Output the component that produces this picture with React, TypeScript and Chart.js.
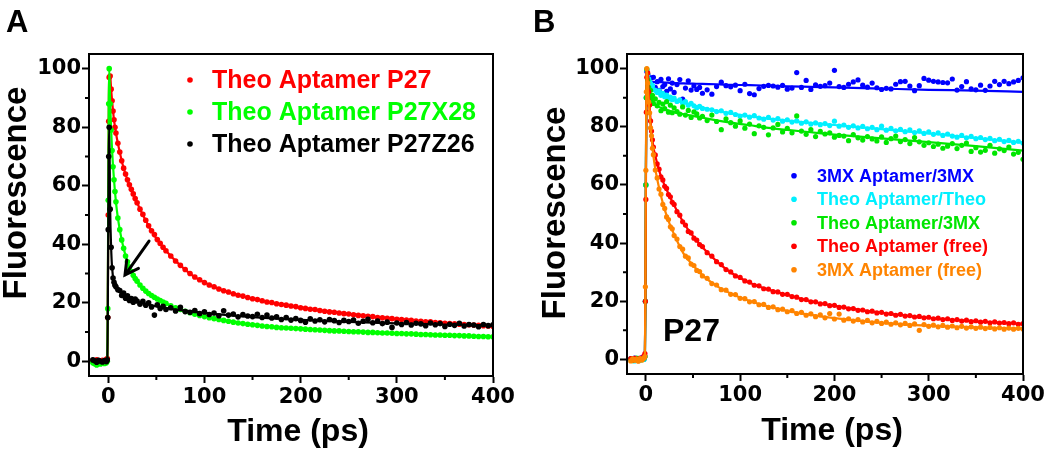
import { useEffect, useRef } from 'react';
import { Chart, registerables } from 'chart.js';

Chart.register(...registerables);

// ---------- shared time axis (ps) ----------
const TIME = [
  -16, -14, -12, -10, -8, -6, -4, -2,
  -1, -0.5, 0, 0.5, 1,
  2, 3, 4, 5, 6, 7, 8,
  10, 12, 14, 16, 18, 20, 22, 24, 26, 28, 30,
  33, 36, 39, 42, 45, 48, 51, 54, 57,
  60, 65, 70, 75, 80, 85, 90, 95, 100, 105,
  110, 115, 120, 125, 130, 135, 140, 145, 150, 155,
  160, 165, 170, 175, 180, 185, 190, 195, 200, 205,
  210, 215, 220, 225, 230, 235, 240, 245, 250, 255,
  260, 265, 270, 275, 280, 285, 290, 295, 300, 305,
  310, 315, 320, 325, 330, 335, 340, 345, 350, 355,
  360, 365, 370, 375, 380, 385, 390, 395, 400,
];

const TIME_FIT = [-16, -2, -1, -0.5, 0, 0.5, 1, 2, 3, 4, 6, 8, 10, 13, 16, 20, 25, 30, 40, 50, 60, 75, 90, 110, 130, 150, 175, 200, 250, 300, 350, 400];

// ---------- Panel A data ----------
const A_P27 = [
  0.3, -0.2, 0.5, 0.1, -0.3, 0.4, 0.2, 0.6,
  1, 15, 50, 82, 97,
  97.5, 93, 89, 85.5, 82.5, 80, 78,
  74.5, 71.5, 68.5, 66, 64, 62, 60.3, 58.8, 57.2, 55.6, 54.2,
  52, 50.2, 48.2, 46.3, 44.6, 43.3, 41.6, 40.3, 39,
  37.8, 36.0, 34.3, 32.8, 31.4, 30.0, 28.8, 27.9, 26.9, 26.1,
  25.5, 24.7, 24.1, 23.7, 23.1, 22.6, 22.3, 21.8, 21.4, 21.1,
  20.7, 20.3, 20.1, 19.7, 19.4, 19.2, 18.9, 18.7, 18.3, 18.1,
  17.8, 17.7, 17.4, 17.1, 16.9, 16.8, 16.5, 16.3, 16.2, 15.9,
  15.7, 15.6, 15.4, 15.3, 15.0, 14.9, 14.7, 14.6, 14.4, 14.3,
  14.1, 14.0, 13.8, 13.7, 13.5, 13.5, 13.3, 13.2, 13.0, 12.9,
  12.8, 12.7, 12.6, 12.5, 12.4, 12.3, 12.2, 12.1, 12.0,
];
const A_P27X28 = [
  -0.5, -0.8, -1.2, -0.6, -0.9, -0.4, -0.7, -0.5,
  0, 18, 55, 88, 100,
  88, 79, 72, 66.5, 62, 58, 54.5,
  49, 45, 41.5, 38.6, 36, 34, 32.2, 30.7, 29.4, 28.3, 27.4,
  26.1, 25, 24, 23.2, 22.5, 21.9, 21.3, 20.8, 20.3,
  19.8, 19.0, 18.3, 17.7, 17.1, 16.6, 16.1, 15.7, 15.3, 14.9,
  14.6, 14.3, 14.0, 13.7, 13.4, 13.1, 12.9, 12.7, 12.5, 12.3,
  12.1, 11.9, 11.8, 11.6, 11.5, 11.4, 11.3, 11.2, 11.1, 11.0,
  10.9, 10.8, 10.7, 10.6, 10.5, 10.4, 10.4, 10.3, 10.2, 10.1,
  10.1, 10.0, 9.9, 9.9, 9.8, 9.7, 9.7, 9.6, 9.5, 9.5,
  9.4, 9.4, 9.3, 9.2, 9.2, 9.1, 9.0, 9.0, 8.9, 8.9,
  8.8, 8.8, 8.7, 8.7, 8.6, 8.5, 8.5, 8.4, 8.4,
];
const A_P27Z26 = [
  0.5, 0.2, -0.3, 0.4, 0, -0.2, 0.3, -0.1,
  0.5, 15, 45, 70, 80,
  52, 39, 32, 28.5, 27, 26, 25.5,
  24.5, 24.2, 22.5, 23.3, 21.6, 22.4, 20.8, 21.5, 20.2, 21.3, 20.6,
  19.5, 20.5, 19.2, 20.0, 18.6, 15.8, 19.3, 18.1, 18.8,
  17.7, 18.3, 17.2, 18.5, 17.0, 16.8, 17.4, 16.3, 16.9, 16.0,
  16.5, 15.6, 17.3, 15.8, 16.2, 15.2, 16.0, 15.5, 15.3, 16.1,
  15.0, 15.8, 14.8, 15.2, 14.3, 15.0, 14.1, 14.6, 14.0, 13.4,
  14.5, 13.8, 14.2, 13.5, 14.3, 13.9, 13.3, 14.0, 13.6, 14.1,
  13.0, 13.7, 14.4, 13.2, 13.8, 12.9, 13.4, 11.6, 13.1, 12.6,
  13.3, 12.4, 13.0, 12.8, 12.2, 13.1, 12.5, 12.9, 11.9, 12.7,
  12.3, 13.0, 12.1, 12.6, 12.4, 11.8, 12.6, 12.2, 12.5,
];
const A_P27_FIT = [0, 0, 1, 15, 50, 82, 97, 97.5, 93, 89, 82.5, 78, 74.5, 70, 66, 62, 58, 54.2, 47.5, 42, 37.8, 32.8, 28.8, 25.5, 23.1, 21.4, 19.7, 18.3, 16.2, 14.4, 13.0, 12.0];
const A_P27X28_FIT = [-0.7, -0.6, 0, 18, 55, 88, 100, 88, 79, 72, 62, 54.5, 49, 43.2, 38.6, 34, 30, 27.4, 23.6, 21.5, 19.8, 17.7, 16.1, 14.6, 13.4, 12.5, 11.6, 11.1, 10.2, 9.5, 8.9, 8.4];
const A_P27Z26_FIT = [0, 0, 0.5, 15, 45, 70, 80, 52, 39, 32, 27, 25.3, 24.2, 23.3, 22.6, 21.8, 21, 20.4, 19.5, 18.8, 18.2, 17.5, 16.9, 16.2, 15.6, 15.1, 14.6, 14.2, 13.5, 13.0, 12.6, 12.3];
const LEGEND_A = ['Theo Aptamer P27', 'Theo Aptamer P27X28', 'Theo Aptamer P27Z26'];

// ---------- Panel B data ----------
const B_3MX_3MX = [
  0.3, -0.2, 0.5, 0, -0.4, 0.2, 0.6, 0.1,
  1, 20, 60, 90, 99,
  98, 97, 96.5, 95, 96.8, 94, 97,
  93.5, 95.5, 92.5, 96.3, 93.8, 94.5, 92.2, 96.5, 93, 95, 91.8,
  94.5, 96.2, 89.5, 93.3, 95.8, 92.6, 94, 92.8, 93.5,
  91.5, 92.7, 91.2, 93.8, 95.3, 94.1, 93.7, 94.3, 92.4, 94.6,
  91.4, 91.0, 93.1, 93.9, 94.2, 94.0, 93.6, 94.2, 92.9, 93.3,
  98.6, 93.5, 95.9, 92.8, 94.4, 93.9, 94.1, 95.0, 99.4, 93.8,
  93.5, 94.6, 95.4, 96.1, 94.3, 93.6, 95.0, 93.4, 92.8, 93.2,
  93.0, 94.6, 95.5, 95.6, 94.0, 92.4, 94.1, 96.6, 96.0, 95.6,
  95.4, 95.2, 95.1, 96.4, 92.6, 93.8, 95.5, 93.0, 92.7, 94.3,
  92.5, 94.0, 95.6, 94.5, 95.6, 94.8, 95.4, 95.9, 96.8,
];
const B_THEO_THEO = [
  -0.2, 0.3, -0.5, 0.1, 0.4, -0.3, 0.2, 0,
  1, 20, 60, 90, 99.5,
  98, 96.5, 95.5, 94.8, 93.5, 94.2, 92.8,
  92.5, 91.8, 92.3, 90.8, 91.5, 90.3, 90.9, 89.6, 90.2, 89.3, 89.8,
  88.7, 89.2, 88.1, 88.6, 87.4, 88.0, 87.2, 86.5, 87.0,
  86.3, 86.0, 85.8, 85.2, 85.5, 84.6, 84.9, 84.2, 83.6, 84.0,
  83.3, 83.8, 83.0, 82.6, 83.2, 82.3, 82.8, 81.9, 82.4, 81.6,
  82.0, 81.2, 81.7, 80.9, 81.3, 80.7, 81.1, 80.4, 81.9, 80.2,
  80.6, 79.8, 80.3, 79.6, 80.1, 79.3, 79.8, 79.0, 80.2, 78.8,
  79.4, 78.6, 79.1, 78.3, 78.9, 78.0, 78.6, 77.7, 78.2, 77.4,
  77.9, 77.0, 77.5, 76.8, 76.4, 77.0, 76.2, 76.7, 75.9, 76.3,
  75.6, 76.0, 75.2, 75.7, 74.9, 75.3, 74.6, 75.0, 74.4,
];
const B_THEO_3MX = [
  0.2, -0.4, 0.1, 0.5, -0.2, 0.3, -0.1, 0.4,
  1, 20, 60, 90, 99.8,
  96, 93.5, 91, 92.5, 89.5, 90.8, 88,
  89.6, 87.2, 88.4, 85.5, 87.8, 86.2, 88.6, 85.0, 87.4, 84.8, 86.5,
  85.2, 84.3, 86.8, 84.0, 85.6, 83.2, 85.1, 84.4, 83.0,
  83.6, 82.1, 84.0, 81.8, 79.0, 82.7, 81.4, 80.2, 82.0, 79.5,
  80.9, 77.6, 80.3, 79.8, 77.2, 79.6, 80.8, 78.2, 79.4, 77.9,
  83.7, 78.5, 77.4, 79.0, 76.6, 78.4, 77.5, 77.9, 76.4, 77.0,
  76.8, 75.2, 77.3, 76.2, 75.4, 76.6, 75.8, 75.1, 76.5, 74.6,
  75.9, 76.8, 74.9, 75.6, 74.2, 76.3, 74.8, 73.6, 74.5, 73.2,
  74.0, 72.6, 73.3, 74.2, 72.5, 73.6, 74.4, 71.5, 72.8, 71.3,
  71.9, 73.6, 70.9, 72.4, 71.8, 73.0, 70.6, 71.2, 68.8,
];
const B_THEO_FREE = [
  0.3, -0.2, 0.4, 0.1, -0.3, 0.5, 0.2, 1.2,
  2, 20, 55, 85, 97,
  98.5, 92, 87.5, 82, 78.5, 75.5, 73,
  70.3, 67.2, 65.4, 62.8, 61.7, 59.5, 58.8, 56.7, 55.9, 54.0, 53.3,
  50.8, 49.6, 47.3, 46.2, 44.0, 43.5, 41.7, 41.0, 39.5,
  38.8, 36.7, 35.5, 33.6, 32.6, 30.9, 30.1, 28.7, 28.2, 27.0,
  26.6, 25.5, 25.3, 24.3, 24.2, 23.3, 23.2, 22.4, 22.4, 21.6,
  21.4, 20.6, 20.6, 19.8, 19.8, 19.1, 19.2, 18.5, 18.6, 17.9,
  18.0, 17.4, 17.5, 16.9, 17.0, 16.4, 16.6, 16.0, 16.2, 15.6,
  15.8, 15.2, 15.5, 14.9, 15.1, 14.6, 14.8, 14.3, 14.5, 14.0,
  14.2, 13.7, 14.0, 13.4, 13.7, 13.2, 13.5, 13.0, 13.3, 12.8,
  13.1, 12.6, 12.9, 12.5, 12.7, 12.3, 12.6, 12.1, 12.3,
];
const B_3MX_FREE = [
  -0.5, 0.2, -0.3, 0.1, -0.6, 0.3, -0.2, 0.5,
  1, 25, 65, 92, 100,
  95, 88.5, 84.8, 79.6, 76.9, 72.6, 70.4,
  65.1, 62.4, 58.6, 56.8, 53.3, 51.9, 49.0, 48.1, 45.6, 44.9, 42.6,
  41.4, 38.8, 37.9, 35.5, 34.9, 32.8, 32.3, 30.6, 30.2,
  28.7, 27.9, 26.1, 25.6, 24.0, 23.8, 22.4, 22.3, 21.0, 20.9,
  19.8, 19.9, 18.8, 18.9, 17.9, 18.1, 17.1, 17.3, 16.4, 16.8,
  15.8, 16.2, 15.2, 15.7, 14.7, 15.3, 14.3, 15.8, 13.9, 15.6,
  13.5, 14.0, 13.2, 13.7, 12.9, 13.4, 12.6, 13.1, 12.4, 12.8,
  12.1, 12.6, 11.9, 12.4, 11.7, 12.2, 10.0, 12.0, 11.4, 11.8,
  11.2, 11.7, 11.1, 11.5, 10.9, 11.4, 10.8, 11.2, 10.7, 11.1,
  10.6, 11.0, 10.5, 10.9, 10.4, 10.8, 10.4, 10.7, 10.5,
];
const B_3MX_3MX_FIT = [0, 0, 1, 20, 60, 90, 99, 97.5, 96.5, 96, 95.5, 95.4, 95.3, 95.3, 95.3, 95.2, 95.1, 95.0, 94.9, 94.8, 94.7, 94.6, 94.4, 94.3, 94.1, 93.9, 93.7, 93.5, 93.1, 92.7, 92.4, 92.0];
const B_THEO_THEO_FIT = [0, 0, 1, 20, 60, 90, 99.5, 97.8, 96.5, 95.4, 94, 93, 92.3, 91.6, 91, 90.4, 89.7, 89.2, 88.2, 87.4, 86.6, 85.5, 84.6, 83.6, 82.8, 82.1, 81.3, 80.6, 79.2, 77.7, 76.1, 74.5];
const B_THEO_3MX_FIT = [0, 0, 1, 20, 60, 90, 99.8, 96, 93, 91, 89.3, 88.3, 87.7, 87, 86.5, 86, 85.5, 85, 84.3, 83.7, 83.1, 82.2, 81.4, 80.5, 79.6, 78.9, 78.1, 77.3, 76.0, 74.7, 73.3, 71.8];
const B_THEO_FREE_FIT = [0, 0, 2, 20, 55, 85, 97, 98.5, 92, 87, 78, 73, 70, 66.2, 63, 59.8, 56.3, 53, 47.0, 42.4, 38.6, 33.8, 29.9, 26.4, 24.0, 22.2, 20.0, 18.4, 16.0, 14.3, 13.1, 12.2];
const B_3MX_FREE_FIT = [0, 0, 1, 25, 65, 92, 100, 95, 89, 84.5, 76.5, 70, 65.5, 60.5, 56.3, 51.5, 46.8, 43, 36.4, 32.4, 29.0, 25.3, 22.7, 20.1, 18.2, 16.7, 15.3, 14.2, 12.6, 11.6, 11.0, 10.6];
const LEGEND_B = ['3MX Aptamer/3MX', 'Theo Aptamer/Theo', 'Theo Aptamer/3MX', 'Theo Aptamer (free)', '3MX Aptamer (free)'];

// ---------- axes ----------
const X_TICKS = [0, 100, 200, 300, 400];
const X_MINOR = [50, 150, 250, 350];
const Y_TICKS = [0, 20, 40, 60, 80, 100];
const Y_MINOR = [10, 30, 50, 70, 90];
const X_TITLE = 'Time (ps)';
const Y_TITLE = 'Fluorescence';

const SANS = '"Liberation Sans", Arial, Helvetica, sans-serif';
const TICK_FONT = '"DejaVu Sans", "Liberation Sans", Arial, sans-serif';

type Series = { pts: number[]; fit: number[]; color: string; order: number };
type Panel = {
  yAxisWidth: number; xAxisHeight: number; padTop: number; padRight: number;
  series: Series[]; pointRadius: number;
  letter: string; letterX: number; letterY: number;
  yTitleX: number; yTitleY: number; xTitleX: number; xTitleY: number;
  legend: string[]; legendDotX: number; legendTextX: number; legendBase0: number; legendStep: number;
  legendSize: number; legendDotDy: number;
  arrow?: { from: [number, number]; to: [number, number] };
  tag?: { text: string; x: number; y: number };
};

const RED = '#ff0000';
const GREEN = '#00ff00';
const BLACK = '#000000';
const BLUE = '#0000ff';
const CYAN = '#00f0ff';
const GREEN_B = '#00e600';
const ORANGE = '#ff8400';

const PANEL_A: Panel = {
  yAxisWidth: 89, xAxisHeight: 86, padTop: 54, padRight: 32,
  series: [
    { pts: A_P27, fit: A_P27_FIT, color: RED, order: 5 },
    { pts: A_P27X28, fit: A_P27X28_FIT, color: GREEN, order: 3 },
    { pts: A_P27Z26, fit: A_P27Z26_FIT, color: BLACK, order: 1 },
  ],
  pointRadius: 2.8,
  letter: 'A', letterX: 6, letterY: 32,
  yTitleX: 17, yTitleY: 193, xTitleX: 298, xTitleY: 441,
  legend: LEGEND_A, legendDotX: 190, legendTextX: 212, legendBase0: 87.5, legendStep: 32,
  legendSize: 25, legendDotDy: 7.5,
  arrow: { from: [42.4, 41.1], to: [17.4, 29.5] },
};

const PANEL_B: Panel = {
  yAxisWidth: 102, xAxisHeight: 88, padTop: 54, padRight: 27,
  series: [
    { pts: B_3MX_3MX, fit: B_3MX_3MX_FIT, color: BLUE, order: 9 },
    { pts: B_THEO_THEO, fit: B_THEO_THEO_FIT, color: CYAN, order: 7 },
    { pts: B_THEO_3MX, fit: B_THEO_3MX_FIT, color: GREEN_B, order: 5 },
    { pts: B_THEO_FREE, fit: B_THEO_FREE_FIT, color: RED, order: 3 },
    { pts: B_3MX_FREE, fit: B_3MX_FREE_FIT, color: ORANGE, order: 1 },
  ],
  pointRadius: 2.6,
  letter: 'B', letterX: 8, letterY: 32,
  yTitleX: 31, yTitleY: 213, xTitleX: 307, xTitleY: 440,
  legend: LEGEND_B, legendDotX: 269, legendTextX: 292, legendBase0: 181.7, legendStep: 23.5,
  legendSize: 18, legendDotDy: 6,
  tag: { text: 'P27', x: 138, y: 341 },
};

function toPoints(xs: number[], ys: number[]) {
  const out: { x: number; y: number }[] = [];
  for (let i = 0; i < Math.min(xs.length, ys.length); i++) out.push({ x: xs[i], y: ys[i] });
  return out;
}

function decorPlugin(p: Panel) {
  return {
    id: 'decor' + p.letter,
    afterDraw(chart: any) {
      const { ctx, chartArea: a, scales } = chart;
      const xs = scales.x, ys = scales.y;
      ctx.save();
      // frame
      ctx.strokeStyle = '#000';
      ctx.lineWidth = 2;
      ctx.strokeRect(a.left, a.top, a.right - a.left, a.bottom - a.top);
      // minor ticks
      ctx.beginPath();
      X_MINOR.forEach((v) => {
        const px = xs.getPixelForValue(v);
        ctx.moveTo(px, a.bottom);
        ctx.lineTo(px, a.bottom + 4);
      });
      Y_MINOR.forEach((v) => {
        const py = ys.getPixelForValue(v);
        ctx.moveTo(a.left, py);
        ctx.lineTo(a.left - 4, py);
      });
      ctx.stroke();

      // panel letter
      ctx.fillStyle = '#000';
      ctx.textAlign = 'left';
      ctx.textBaseline = 'alphabetic';
      ctx.font = `bold 31px ${SANS}`;
      ctx.fillText(p.letter, p.letterX, p.letterY);

      // axis titles
      ctx.font = `bold 32px ${SANS}`;
      ctx.textAlign = 'center';
      ctx.fillText(X_TITLE, p.xTitleX, p.xTitleY);
      ctx.save();
      ctx.translate(p.yTitleX, p.yTitleY);
      ctx.rotate(-Math.PI / 2);
      ctx.textBaseline = 'middle';
      ctx.font = `bold 33px ${SANS}`;
      ctx.fillText(Y_TITLE, 0, 0);
      ctx.restore();

      // legend
      ctx.textAlign = 'left';
      ctx.textBaseline = 'alphabetic';
      ctx.font = `bold ${p.legendSize}px ${SANS}`;
      p.legend.forEach((label, i) => {
        const base = p.legendBase0 + i * p.legendStep;
        const color = p.series[i].color;
        ctx.fillStyle = color;
        ctx.beginPath();
        ctx.arc(p.legendDotX, base - p.legendDotDy, 2.8, 0, Math.PI * 2);
        ctx.fill();
        ctx.fillText(label, p.legendTextX, base);
      });

      // tag text
      if (p.tag) {
        ctx.fillStyle = '#000';
        ctx.font = `bold 32px ${SANS}`;
        ctx.fillText(p.tag.text, p.tag.x, p.tag.y);
      }

      // arrow
      if (p.arrow) {
        const x1 = xs.getPixelForValue(p.arrow.from[0]);
        const y1 = ys.getPixelForValue(p.arrow.from[1]);
        const x2 = xs.getPixelForValue(p.arrow.to[0]);
        const y2 = ys.getPixelForValue(p.arrow.to[1]);
        const ang = Math.atan2(y1 - y2, x1 - x2);
        const len = 15;
        ctx.strokeStyle = '#000';
        ctx.lineWidth = 3;
        ctx.lineCap = 'round';
        ctx.beginPath();
        ctx.moveTo(x1, y1);
        ctx.lineTo(x2, y2);
        ctx.moveTo(x2 + len * Math.cos(ang - 0.5), y2 + len * Math.sin(ang - 0.5));
        ctx.lineTo(x2, y2);
        ctx.lineTo(x2 + len * Math.cos(ang + 0.5), y2 + len * Math.sin(ang + 0.5));
        ctx.stroke();
      }
      ctx.restore();
    },
  };
}

function buildConfig(p: Panel): any {
  const datasets: any[] = [];
  p.series.forEach((s) => {
    datasets.push({
      data: toPoints(TIME, s.pts),
      showLine: false,
      pointRadius: p.pointRadius,
      pointHoverRadius: 0,
      pointBorderWidth: 0,
      pointBackgroundColor: s.color,
      borderColor: s.color,
      order: s.order + 1,
    });
    datasets.push({
      data: toPoints(TIME_FIT, s.fit),
      showLine: true,
      borderColor: s.color,
      borderWidth: 2.2,
      pointRadius: 0,
      pointHoverRadius: 0,
      cubicInterpolationMode: 'monotone',
      fill: false,
      order: s.order,
    });
  });
  const tickFont = { family: TICK_FONT, weight: 'bold', size: 21 };
  return {
    type: 'line',
    data: { datasets },
    options: {
      animation: false,
      responsive: false,
      maintainAspectRatio: false,
      layout: { padding: { top: p.padTop, right: p.padRight, left: 0, bottom: 0 } },
      plugins: { legend: { display: false }, tooltip: { enabled: false } },
      events: [],
      scales: {
        x: {
          type: 'linear',
          min: -20,
          max: 400,
          afterBuildTicks: (s: any) => { s.ticks = X_TICKS.map((v) => ({ value: v })); },
          afterFit: (s: any) => { s.height = p.xAxisHeight; },
          ticks: { font: tickFont, color: '#000', padding: 2, maxRotation: 0, autoSkip: false, callback: (v: any) => String(v) },
          grid: { drawOnChartArea: false, drawTicks: true, tickLength: 7, tickWidth: 2, tickColor: '#000' },
          border: { display: true, color: '#000', width: 2 },
        },
        y: {
          type: 'linear',
          min: -5,
          max: 105,
          afterBuildTicks: (s: any) => { s.ticks = Y_TICKS.map((v) => ({ value: v })); },
          afterFit: (s: any) => { s.width = p.yAxisWidth; },
          ticks: { font: tickFont, color: '#000', padding: 1, autoSkip: false, callback: (v: any) => String(v) },
          grid: { drawOnChartArea: false, drawTicks: true, tickLength: 7, tickWidth: 2, tickColor: '#000' },
          border: { display: true, color: '#000', width: 2 },
        },
      },
    },
    plugins: [decorPlugin(p)],
  };
}

export default function App() {
  const refA = useRef<HTMLCanvasElement>(null);
  const refB = useRef<HTMLCanvasElement>(null);
  useEffect(() => {
    const a = new Chart(refA.current as HTMLCanvasElement, buildConfig(PANEL_A));
    const b = new Chart(refB.current as HTMLCanvasElement, buildConfig(PANEL_B));
    return () => { a.destroy(); b.destroy(); };
  }, []);
  return (
    <div style={{ position: 'fixed', left: 0, top: 0, width: 1050, height: 462, background: '#fff', overflow: 'hidden' }}>
      <canvas ref={refA} width={525} height={462} style={{ position: 'absolute', left: 0, top: 0, width: 525, height: 462 }} />
      <canvas ref={refB} width={525} height={462} style={{ position: 'absolute', left: 525, top: 0, width: 525, height: 462 }} />
    </div>
  );
}
